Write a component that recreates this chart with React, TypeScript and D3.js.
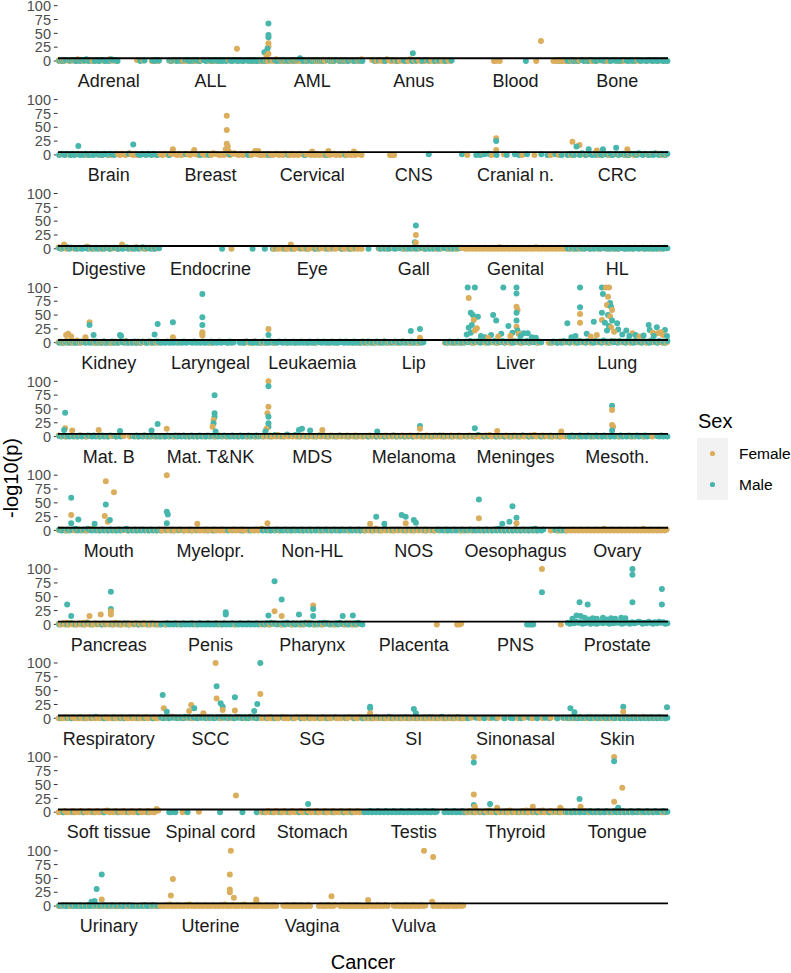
import React from "react";
import * as d3 from "d3";

// ---------------- DATA ----------------
const CATEGORIES = [
  "Adrenal", "ALL", "AML", "Anus", "Blood", "Bone",
  "Brain", "Breast", "Cervical", "CNS", "Cranial n.", "CRC",
  "Digestive", "Endocrine", "Eye", "Gall", "Genital", "HL",
  "Kidney", "Laryngeal", "Leukaemia", "Lip", "Liver", "Lung",
  "Mat. B", "Mat. T&NK", "MDS", "Melanoma", "Meninges", "Mesoth.",
  "Mouth", "Myelopr.", "Non-HL", "NOS", "Oesophagus", "Ovary",
  "Pancreas", "Penis", "Pharynx", "Placenta", "PNS", "Prostate",
  "Respiratory", "SCC", "SG", "SI", "Sinonasal", "Skin",
  "Soft tissue", "Spinal cord", "Stomach", "Testis", "Thyroid", "Tongue",
  "Urinary", "Uterine", "Vagina", "Vulva",
];

// Low -log10(p) values of the dense band, one char per consecutive result ('.' = none)
const FEMALE_BANDS = [
  "1021.02103120.1201.0210.3120.........2..1...0120",
  ".....0120.1020.120102.1.0201020.1201.0210.12010.1",
  "0.102103.2010.1020102.01.2101020.2101.02010.20.103",
  "....21021023102010201030102010201020102010......",
  "...............00.0..................0........0102010",
  "0.10201.1.02010.1.2010.2.01020.1.0201.0.20.10.201",
  "..1...0....1...0..1...0....0..210210231020.....1...0.",
  "102102310201210321012021032101021023102012103210",
  "010210120102102010210120102010210120102102010210",
  ".............000..................................",
  ".0.......2...0.....1........0.....0.......0...0...",
  "1.0.2.1..0.1..2.0..1.0..2.1..0.1.0.2.1..0.1..2.0.1",
  "3.1.0.2.0..1..4.0.1..0.2.0.1.0.2..1.0.3..1.0.2.0.1",
  "...................................0..............",
  "......01020.01020.102010.10201.0210201.01020102010",
  "........0.1.0..1..2.0.1..0..1.0.2.1.0..1..0.1.0.2.",
  "01020102010201020103010201020102010201030102010201020102",
  "0.1.0.10.1.0.1.0..1.0.1.0.1.0.2.0.1..0.1.0.1.0..1",
  "12013021041021.1.20.10201.0120.1.30.1.0201.0.20.10",
  ".........1...........1..0.......0......012010210",
  "1.0...0.....0...0.....0..0.1....0...0...1...0..0.",
  "0.1.0.1.0.2.10.1.0.2.1.0.1.0.2..........0.1.0.1.0.",
  "1.2.0.1.3.0.2.1.0.2.1.0.3.1.0.2.1.3.0....0.1.0.2.1",
  "1.2.0.3.1.2.0.4.1.2.0.1.3.2.1.2.0.3.1.2.0.4.1.2.0.1",
  "2.1.0..1.0.2..0.1...0.1.0.1.0.2.1..0.1.0..2.0.1.0.",
  "1.0..1.0.2..1.0.1.0.1.0..1.0.2.1.0..1.0.1..0.1.0.1",
  "10202010301020102010201020102030102010201020102010",
  "01020102010201020102010201020102010201020102010201",
  "10201020102030102010201020102010203010201020102010",
  ".0..1.0..1..0.1..0...0....0..1..0.1...0...0.......",
  "1.2.0.1.0.2.1.0.3.1.0.1.0.1.0.2.1.0.1.0.2.1.0.1.0.",
  "10201020102.010201020102010201020..1020102010.10201",
  "3.1.0..1.0..1.0..1..0.1.0.1..0.1..0.1.0..1.0..1.0.",
  "1020203010201020102010201020102010.0..1..0...1..0.",
  "0.1.0..1.0.1.0.2.1.0.1.0.2.0.1.0.1.0......0.1.0.1.",
  "0102010201020102010301020102010201020103010201020102",
  "10203020102030401020102010203020102010201020102010",
  "...0......0.......0...........0......0............",
  "0.1.0.2.1.0..1.0.2.0.1.3..0.1.0.2.1.0..1.0.2.0.1..",
  "....................................0.........001.",
  "...............................................0..",
  "",
  "01020102010201020102010201020102010201020102010201",
  "1.2.0.3.1.0.2.1.0.3.1.2.0.1.2.0.3.1.0.2.1.0.3.1.2.",
  "0.1020.10.2010.102.0102.0.0.1020.10.2010.102.0102.",
  "10201020102010201020102010201020102010201020102010",
  "0..1...0.1..0...1..0..1...0..1...0.1..0...1..0..1.",
  "0.1.0.2.1.0.2.0.1.0.1.0.2.0.1.0.2.1.0.2.0.1.0.1.0.",
  "01020102010201020102010230102010201020102010201023",
  "...........0.......1..............................",
  "01020102010201020102010201020102010201020102010201",
  "",
  "10203020102030102010203010102030201020301020102030",
  "1.0.1.0..2.0..1.0.1..0.1..1.0.1.0..2.0..1.0.1..0.1",
  "0.1.2.0.1..0.1.0..1.0.1.0.1.0.1.2.0.1..0.1.0..1.0.",
  "0102030102010203010201020102010203010201020301020102",
  "010201020...1020102010201020....0201020102..0201020102010",
  "0102010201020..10201020102010201...0201020102010201",
];

const MALE_BANDS = [
  "0102.11201021301.020120103120..........0.1...1021",
  "....1021020.12010210.201201201020.1021020120102010",
  "102.1.2010201021021.01020102010.20102.01020.102010",
  ".....0.1..02..1.0..10..0.1..02.1..0.1..0..1......",
  "..............................0..............1.0121",
  "102010.20102.10.2102.0210102.10201.20.1021020.1020",
  "0210210201201021020120102102101......2....102102102101",
  "....0.......1......0...0.........1........0......",
  "...0........0.......0.........0........0........",
  "...............................1...............1.",
  ".....01011.21..0....0...1.0...1......1..0...1..0..",
  "01201203102102031021020120120102120310210203102102",
  "10213021102013021020110210121020130.10201302101021",
  "..............................0..............0....",
  ".0...0.1...0...0...1..0...0.1...0..1...0...0..1...",
  "..0....10201021012102010210121020102101210201021..",
  "",
  "10201021012010210120102010210201021012010201021021",
  "01020102010210201020102010201021020102010210201021",
  "01020102010201.020102010201020.10201..0102.102010",
  "20102010210201020102010201021020102010210201020102",
  "102010201020110201020102010201..........1020102010",
  "21302130213021302130213021302130213021....02102031",
  "203120312031203120412031203120312031203120412031203",
  "10201020102010210201020102.10201....10201020102010",
  "01020102010201020102010201020102010201020102010201",
  "0.1.0.3.1.0.4.1.3.0.1.0.1.0.2.1.0.1.0.2.1.0.1.0.1.",
  "1.0.1.0.1.0.1.2.0.1.0.1.0..1.0.1.0.1.2.0.1.0.1.0..",
  "0.1.0.3..0.1...0.1.0..0.1.0.2..0.1...0.1..0.1.0...",
  "10201020102010201020102010201020102010201...102010",
  "20102012301020310201020102010201230102010201020102",
  "0..1..0..1.0...0..1....0..0..1...0..1...0...0..1..",
  "01020102010201020102010201020102010201020102010201",
  "0.1.0.1.0.3.1.0.2.1.0.1.0.2.1.0.1.0.20102010201020",
  "102010201020102030102010201020102030102.....102010",
  "",
  "0.1.0.2.0.1.0.2.0..1.0.1..0.1.0.2.0..1.0.1..0.1.0.",
  "01020102010201020102010201020102010201020102010201",
  "10203120102031020102031020102031201020310201020310",
  "",
  "..............................0000................",
  "3142534123514213425314253412531423541325314253412",
  ".0..1.0...2..0..1.3...0....0..1.0...2..0..1...0...",
  "20120312021031202103120212012031202103120210312021",
  "..0...0...1....0...0...0....0...0...1....0...0...0",
  "0.1.0.2.1.0.3.0.1.0.2.0.1.0.1.0.2.1.0.3.0.1.0.2.0.",
  ".0...1...0...1.0...0..10...0...1...0...1.0...0..1.",
  "10201020102010201020102012010201020102010201020101",
  "..0....0....0....0....0......0....0....0....0.....",
  "....00.0.....0...............0..........0......0..",
  ".0...0...0...0....0...0....0...0...0....0...0.....",
  "01020102010201020102010201020102010201...02010201020",
  "0.1.0..1.0..1..0..1.0..1..0.1.0..1.0..1..0..1.0..1",
  "01020102010201020102010201020102010201020102010201",
  "10201020102010201020102010201020102010.01020102010",
  "",
  "",
  "",
];

// Stand-out results: [cancer, relative position within cancer, -log10(p), sex]
const OUTLIERS: [string, number, number, string][] = [
  ["ALL", 0.76, 22, "F"],
  ["AML", 0.07, 68, "M"], ["AML", 0.07, 47, "M"], ["AML", 0.07, 43, "M"], ["AML", 0.07, 32, "F"],
  ["AML", 0.07, 26, "F"], ["AML", 0.06, 22, "M"], ["AML", 0.03, 16, "M"], ["AML", 0.07, 13, "F"],
  ["AML", 0.05, 9, "F"], ["AML", 0.38, 5, "M"],
  ["Anus", 0.49, 14, "M"], ["Blood", 0.75, 36, "F"],
  ["Brain", 0.2, 16, "M"], ["Brain", 0.74, 19, "M"],
  ["Breast", 0.13, 10, "F"], ["Breast", 0.34, 9, "F"], ["Breast", 0.66, 71, "F"], ["Breast", 0.66, 45, "F"],
  ["Breast", 0.66, 20, "F"], ["Breast", 0.67, 15, "F"], ["Breast", 0.65, 10, "F"], ["Breast", 0.68, 6, "F"],
  ["Breast", 0.94, 7, "F"], ["Breast", 0.97, 7, "F"],
  ["Cervical", 0.5, 6, "F"], ["Cervical", 0.66, 7, "F"], ["Cervical", 0.91, 6, "F"],
  ["Cranial n.", 0.31, 30, "F"], ["Cranial n.", 0.31, 25, "M"], ["Cranial n.", 0.31, 9, "F"],
  ["CRC", 0.06, 24, "F"], ["CRC", 0.13, 18, "F"], ["CRC", 0.1, 15, "M"], ["CRC", 0.22, 10, "M"],
  ["CRC", 0.49, 13, "M"], ["CRC", 0.6, 10, "F"], ["CRC", 0.36, 10, "M"], ["CRC", 0.3, 8, "F"],
  ["Digestive", 0.06, 8, "F"], ["Digestive", 0.63, 8, "F"], ["Eye", 0.29, 8, "F"],
  ["Gall", 0.52, 42, "M"], ["Gall", 0.52, 25, "F"], ["Gall", 0.51, 12, "M"], ["Gall", 0.52, 11, "F"],
  ["Kidney", 0.1, 16, "F"], ["Kidney", 0.08, 14, "F"], ["Kidney", 0.31, 37, "F"], ["Kidney", 0.31, 32, "M"],
  ["Kidney", 0.35, 14, "M"], ["Kidney", 0.61, 14, "M"], ["Kidney", 0.62, 12, "M"], ["Kidney", 0.27, 10, "F"],
  ["Kidney", 0.13, 11, "F"], ["Kidney", 0.95, 15, "M"], ["Kidney", 0.98, 34, "M"],
  ["Laryngeal", 0.13, 37, "M"], ["Laryngeal", 0.13, 10, "F"], ["Laryngeal", 0.42, 88, "M"], ["Laryngeal", 0.42, 46, "M"],
  ["Laryngeal", 0.42, 32, "M"], ["Laryngeal", 0.42, 19, "F"], ["Laryngeal", 0.42, 16, "F"], ["Laryngeal", 0.42, 13, "F"],
  ["Leukaemia", 0.07, 25, "F"], ["Leukaemia", 0.07, 14, "M"],
  ["Lip", 0.47, 21, "M"], ["Lip", 0.56, 25, "M"], ["Lip", 0.56, 9, "F"],
  ["Liver", 0.03, 100, "M"], ["Liver", 0.1, 100, "M"], ["Liver", 0.04, 81, "F"], ["Liver", 0.06, 54, "M"],
  ["Liver", 0.08, 50, "M"], ["Liver", 0.13, 47, "M"], ["Liver", 0.09, 41, "F"], ["Liver", 0.07, 32, "M"],
  ["Liver", 0.04, 27, "M"], ["Liver", 0.12, 26, "F"], ["Liver", 0.02, 15, "M"], ["Liver", 0.06, 18, "M"],
  ["Liver", 0.1, 22, "F"], ["Liver", 0.28, 50, "M"], ["Liver", 0.31, 40, "M"], ["Liver", 0.38, 100, "M"],
  ["Liver", 0.51, 100, "M"], ["Liver", 0.51, 89, "M"], ["Liver", 0.51, 65, "F"], ["Liver", 0.52, 59, "F"],
  ["Liver", 0.51, 54, "M"], ["Liver", 0.51, 40, "M"], ["Liver", 0.51, 29, "F"], ["Liver", 0.52, 22, "M"],
  ["Liver", 0.43, 30, "M"], ["Liver", 0.47, 18, "M"], ["Liver", 0.53, 16, "F"], ["Liver", 0.58, 17, "M"],
  ["Liver", 0.62, 17, "M"], ["Liver", 0.26, 14, "M"], ["Liver", 0.36, 16, "M"], ["Liver", 0.16, 12, "M"],
  ["Liver", 0.45, 12, "F"], ["Liver", 0.2, 10, "M"], ["Liver", 0.33, 11, "F"], ["Liver", 0.55, 12, "M"],
  ["Liver", 0.66, 10, "M"], ["Liver", 0.7, 9, "M"], ["Liver", 0.23, 9, "F"],
  ["Lung", 0.01, 35, "M"], ["Lung", 0.135, 100, "M"], ["Lung", 0.135, 64, "M"], ["Lung", 0.135, 52, "F"],
  ["Lung", 0.135, 36, "F"], ["Lung", 0.27, 38, "M"], ["Lung", 0.35, 100, "M"], ["Lung", 0.36, 88, "M"],
  ["Lung", 0.39, 100, "F"], ["Lung", 0.42, 100, "F"], ["Lung", 0.41, 83, "F"], ["Lung", 0.43, 72, "M"],
  ["Lung", 0.4, 68, "F"], ["Lung", 0.35, 54, "M"], ["Lung", 0.44, 65, "M"], ["Lung", 0.45, 59, "F"],
  ["Lung", 0.41, 50, "M"], ["Lung", 0.43, 48, "F"], ["Lung", 0.5, 35, "M"], ["Lung", 0.51, 24, "M"],
  ["Lung", 0.35, 41, "F"], ["Lung", 0.38, 36, "M"], ["Lung", 0.45, 40, "M"], ["Lung", 0.42, 30, "M"],
  ["Lung", 0.44, 28, "F"], ["Lung", 0.4, 22, "M"], ["Lung", 0.47, 20, "F"], ["Lung", 0.59, 22, "M"],
  ["Lung", 0.65, 17, "F"], ["Lung", 0.81, 32, "M"], ["Lung", 0.89, 28, "M"], ["Lung", 0.97, 23, "M"],
  ["Lung", 0.9, 17, "F"], ["Lung", 0.82, 23, "M"], ["Lung", 0.2, 16, "M"], ["Lung", 0.3, 14, "F"],
  ["Lung", 0.55, 15, "M"], ["Lung", 0.85, 18, "F"], ["Lung", 0.93, 19, "F"],
  ["Lung", 0.62, 12, "M"], ["Lung", 0.68, 14, "M"], ["Lung", 0.72, 11, "F"], ["Lung", 0.76, 13, "M"],
  ["Lung", 0.86, 12, "M"], ["Lung", 0.95, 14, "F"], ["Lung", 0.99, 12, "M"], ["Lung", 0.05, 10, "M"],
  ["Lung", 0.09, 12, "M"], ["Lung", 0.24, 11, "F"],
  ["Mat. B", 0.07, 43, "M"], ["Mat. B", 0.07, 15, "F"], ["Mat. B", 0.06, 12, "M"], ["Mat. B", 0.14, 11, "F"],
  ["Mat. B", 0.4, 12, "F"], ["Mat. B", 0.61, 10, "M"], ["Mat. B", 0.92, 11, "M"], ["Mat. B", 0.98, 23, "M"],
  ["Mat. T&NK", 0.07, 14, "F"], ["Mat. T&NK", 0.54, 75, "M"], ["Mat. T&NK", 0.54, 42, "M"], ["Mat. T&NK", 0.54, 36, "M"],
  ["Mat. T&NK", 0.53, 30, "F"], ["Mat. T&NK", 0.53, 24, "M"], ["Mat. T&NK", 0.52, 18, "F"], ["Mat. T&NK", 0.55, 9, "M"],
  ["MDS", 0.07, 100, "F"], ["MDS", 0.07, 91, "M"], ["MDS", 0.07, 54, "F"], ["MDS", 0.06, 42, "F"],
  ["MDS", 0.07, 36, "M"], ["MDS", 0.07, 24, "M"], ["MDS", 0.07, 18, "M"], ["MDS", 0.05, 14, "F"],
  ["MDS", 0.04, 9, "M"], ["MDS", 0.4, 14, "M"], ["MDS", 0.48, 11, "M"], ["MDS", 0.6, 12, "F"], ["MDS", 0.37, 12, "M"],
  ["Melanoma", 0.56, 19, "M"], ["Melanoma", 0.56, 14, "F"], ["Melanoma", 0.14, 9, "M"],
  ["Meninges", 0.1, 15, "M"], ["Meninges", 0.32, 10, "F"], ["Meninges", 0.95, 9, "F"],
  ["Mesoth.", 0.45, 56, "M"], ["Mesoth.", 0.45, 48, "F"], ["Mesoth.", 0.45, 21, "F"], ["Mesoth.", 0.46, 18, "F"],
  ["Mesoth.", 0.45, 11, "M"],
  ["Mouth", 0.13, 59, "M"], ["Mouth", 0.13, 28, "F"], ["Mouth", 0.13, 13, "M"], ["Mouth", 0.2, 20, "M"],
  ["Mouth", 0.47, 89, "F"], ["Mouth", 0.55, 69, "F"], ["Mouth", 0.47, 47, "M"], ["Mouth", 0.46, 26, "F"],
  ["Mouth", 0.49, 16, "F"], ["Mouth", 0.51, 19, "M"], ["Mouth", 0.36, 12, "M"],
  ["Myelopr.", 0.07, 100, "F"], ["Myelopr.", 0.07, 34, "M"], ["Myelopr.", 0.08, 29, "M"], ["Myelopr.", 0.07, 13, "M"],
  ["Myelopr.", 0.37, 12, "F"], ["Non-HL", 0.06, 13, "F"],
  ["NOS", 0.13, 25, "M"], ["NOS", 0.38, 28, "M"], ["NOS", 0.42, 25, "M"], ["NOS", 0.5, 19, "M"],
  ["NOS", 0.52, 14, "M"], ["NOS", 0.42, 13, "F"], ["NOS", 0.21, 12, "M"], ["NOS", 0.07, 12, "F"],
  ["Oesophagus", 0.14, 56, "M"], ["Oesophagus", 0.14, 22, "F"], ["Oesophagus", 0.47, 44, "M"], ["Oesophagus", 0.51, 23, "M"],
  ["Oesophagus", 0.44, 16, "M"], ["Oesophagus", 0.37, 12, "M"], ["Oesophagus", 0.51, 13, "F"],
  ["Pancreas", 0.09, 36, "M"], ["Pancreas", 0.13, 15, "M"], ["Pancreas", 0.31, 15, "F"], ["Pancreas", 0.42, 18, "F"],
  ["Pancreas", 0.52, 59, "M"], ["Pancreas", 0.52, 28, "M"], ["Pancreas", 0.52, 24, "F"], ["Pancreas", 0.52, 18, "F"],
  ["Penis", 0.65, 22, "M"], ["Penis", 0.65, 18, "M"],
  ["Pharynx", 0.13, 78, "M"], ["Pharynx", 0.2, 45, "M"], ["Pharynx", 0.13, 24, "F"], ["Pharynx", 0.2, 15, "F"],
  ["Pharynx", 0.07, 16, "M"], ["Pharynx", 0.37, 18, "M"], ["Pharynx", 0.51, 34, "F"], ["Pharynx", 0.51, 28, "M"],
  ["Pharynx", 0.51, 15, "M"], ["Pharynx", 0.8, 15, "M"], ["Pharynx", 0.9, 16, "M"],
  ["PNS", 0.76, 100, "F"], ["PNS", 0.76, 58, "M"],
  ["Prostate", 0.13, 40, "M"], ["Prostate", 0.21, 36, "M"], ["Prostate", 0.1, 16, "M"], ["Prostate", 0.65, 100, "M"],
  ["Prostate", 0.65, 90, "M"], ["Prostate", 0.65, 40, "M"], ["Prostate", 0.94, 64, "M"], ["Prostate", 0.94, 36, "M"],
  ["Prostate", 0.14, 15, "M"], ["Prostate", 0.18, 12, "M"], ["Prostate", 0.26, 11, "M"], ["Prostate", 0.36, 12, "M"],
  ["Prostate", 0.44, 11, "M"], ["Prostate", 0.54, 12, "M"], ["Prostate", 0.58, 11, "M"], ["Prostate", 0.06, 10, "M"],
  ["Prostate", 0.3, 10, "M"], ["Prostate", 0.4, 9, "M"], ["Prostate", 0.48, 10, "M"], ["Prostate", 0.22, 9, "M"],
  ["SCC", 0.03, 42, "M"], ["SCC", 0.04, 18, "F"], ["SCC", 0.07, 12, "M"], ["SCC", 0.31, 24, "F"],
  ["SCC", 0.34, 18, "M"], ["SCC", 0.29, 13, "F"], ["SCC", 0.55, 100, "F"], ["SCC", 0.56, 58, "M"],
  ["SCC", 0.56, 36, "F"], ["SCC", 0.74, 38, "M"], ["SCC", 0.6, 27, "M"], ["SCC", 0.62, 21, "M"],
  ["SCC", 0.62, 15, "F"], ["SCC", 0.74, 14, "F"], ["SCC", 0.99, 100, "M"], ["SCC", 0.99, 44, "F"],
  ["SCC", 0.96, 26, "M"], ["SCC", 0.93, 13, "M"], ["SCC", 0.43, 9, "F"],
  ["SI", 0.07, 21, "M"], ["SI", 0.07, 18, "M"], ["SI", 0.07, 9, "F"], ["SI", 0.5, 17, "M"], ["SI", 0.52, 9, "M"],
  ["Skin", 0.04, 18, "M"], ["Skin", 0.08, 11, "M"], ["Skin", 0.56, 21, "M"], ["Skin", 0.56, 12, "F"], ["Skin", 0.99, 20, "M"],
  ["Soft tissue", 0.97, 6, "F"], ["Spinal cord", 0.75, 30, "F"], ["Stomach", 0.46, 15, "M"],
  ["Thyroid", 0.09, 100, "F"], ["Thyroid", 0.09, 90, "M"], ["Thyroid", 0.09, 32, "F"], ["Thyroid", 0.09, 13, "M"],
  ["Thyroid", 0.1, 10, "F"], ["Thyroid", 0.25, 15, "M"], ["Thyroid", 0.32, 8, "F"], ["Thyroid", 0.67, 10, "F"],
  ["Thyroid", 0.94, 8, "F"],
  ["Tongue", 0.47, 100, "F"], ["Tongue", 0.47, 92, "M"], ["Tongue", 0.55, 44, "F"], ["Tongue", 0.13, 24, "M"],
  ["Tongue", 0.14, 10, "F"], ["Tongue", 0.47, 19, "F"], ["Tongue", 0.51, 8, "M"],
  ["Urinary", 0.43, 57, "M"], ["Urinary", 0.38, 31, "M"], ["Urinary", 0.43, 12, "F"], ["Urinary", 0.33, 8, "M"],
  ["Urinary", 0.36, 9, "M"],
  ["Uterine", 0.13, 49, "F"], ["Uterine", 0.11, 19, "F"], ["Uterine", 0.7, 100, "F"], ["Uterine", 0.69, 57, "F"],
  ["Uterine", 0.69, 30, "F"], ["Uterine", 0.69, 25, "F"], ["Uterine", 0.73, 15, "F"], ["Uterine", 0.95, 12, "F"],
  ["Uterine", 0.95, 9, "F"],
  ["Vagina", 0.69, 18, "F"],
  ["Vulva", 0.05, 11, "F"], ["Vulva", 0.6, 100, "F"], ["Vulva", 0.69, 89, "F"], ["Vulva", 0.68, 8, "F"],
];

const Y_TICKS = [0, 25, 50, 75, 100];
const THRESHOLD = 5;
const SEX_CODES = ["F", "M"];
const SEX_LABELS = ["Female", "Male"];
const SEX_COLORS = ["#DAAE5C", "#47B6AC"];
const PER_ROW = 6;

// ---------------- LAYOUT ----------------
const W = 791;
const H = 973;
const PANEL_LEFT = 58;
const PANEL_RIGHT = 668;
const ROW_STEP = 93.9;
const Y_ZERO = 61;
const Y_HUNDRED = 5.7;
const R = 3;
const FONT = "'Liberation Sans', Arial, Helvetica, sans-serif";

type Pt = { x: number; v: number; sex: string };

export default function App() {
  const x = d3.scaleLinear().domain([0, PER_ROW]).range([PANEL_LEFT, PANEL_RIGHT]);
  const y = d3.scaleLinear().domain([0, 100]).range([Y_ZERO, Y_HUNDRED]);
  const color = d3.scaleOrdinal<string, string>().domain(SEX_CODES).range(SEX_COLORS);
  const nRows = Math.ceil(CATEGORIES.length / PER_ROW);

  const rows = d3.range(nRows).map((r) => {
    const cats = CATEGORIES.slice(r * PER_ROW, r * PER_ROW + PER_ROW);
    const pts: Pt[] = [];
    cats.forEach((cat, slot) => {
      const k = r * PER_ROW + slot;
      const fb = FEMALE_BANDS[k] || "";
      const mb = MALE_BANDS[k] || "";
      const n = Math.max(fb.length, mb.length);
      for (let i = 0; i < n; i++) {
        if (i < fb.length && fb[i] !== ".") pts.push({ x: slot + (i + 0.3) / fb.length, v: +fb[i], sex: "F" });
        if (i < mb.length && mb[i] !== ".") pts.push({ x: slot + (i + 0.7) / mb.length, v: +mb[i], sex: "M" });
      }
    });
    OUTLIERS.forEach(([cat, frac, v, sex]) => {
      const slot = cats.indexOf(cat);
      if (slot >= 0) pts.push({ x: slot + frac, v, sex });
    });
    return { cats, pts };
  });

  return (
    <svg
      width={W}
      height={H}
      style={{ position: "absolute", left: 0, top: 0, background: "#fff" }}
      fontFamily={FONT}
    >
      {rows.map((row, r) => (
        <g key={r} transform={`translate(0,${r * ROW_STEP})`}>
          {Y_TICKS.map((t) => (
            <g key={t}>
              <text x={51} y={y(t)} dy="0.36em" textAnchor="end" fontSize={14.5} fill="#4D4D4D">
                {t}
              </text>
              <line x1={53.8} x2={57.6} y1={y(t)} y2={y(t)} stroke="#333" strokeWidth={1} />
            </g>
          ))}
          {row.pts.map((p, i) => (
            <circle key={i} cx={x(p.x)} cy={y(Math.min(p.v, 100))} r={R} fill={color(p.sex)} />
          ))}
          <line x1={PANEL_LEFT} x2={PANEL_RIGHT} y1={y(THRESHOLD)} y2={y(THRESHOLD)} stroke="#000" strokeWidth={1.9} />
          {row.cats.map((c, s) => (
            <text key={c} x={x(s + 0.5)} y={87.3} textAnchor="middle" fontSize={18} fill="#1A1A1A">
              {c}
            </text>
          ))}
        </g>
      ))}
      <text transform={`translate(18,478) rotate(-90)`} textAnchor="middle" fontSize={20} fill="#000">
        -log10(p)
      </text>
      <text x={(PANEL_LEFT + PANEL_RIGHT) / 2} y={969} textAnchor="middle" fontSize={20} fill="#000">
        Cancer
      </text>
      <g>
        <text x={698} y={428} fontSize={20} fill="#000">
          Sex
        </text>
        {SEX_LABELS.map((lab, i) => (
          <g key={lab} transform={`translate(697,${438 + i * 31})`}>
            <rect width={31} height={31} fill="#F2F2F2" />
            <circle cx={15.5} cy={15.5} r={2.6} fill={color(SEX_CODES[i])} />
            <text x={42} y={15.5} dy="0.36em" fontSize={15.5} fill="#000">
              {lab}
            </text>
          </g>
        ))}
      </g>
    </svg>
  );
}
